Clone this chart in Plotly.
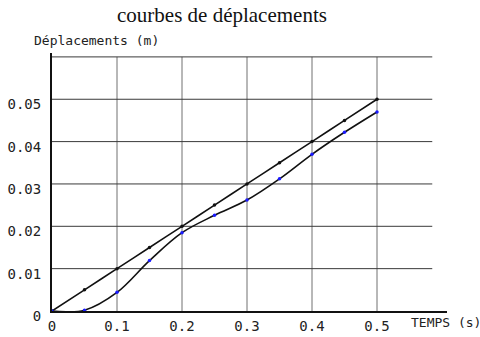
import plotly.graph_objects as go

# Data
temps = [0, 0.05, 0.1, 0.15, 0.2, 0.25, 0.3, 0.35, 0.4, 0.45, 0.5]
depl_lineaire = [0, 0.005, 0.010, 0.015, 0.020, 0.025, 0.030, 0.035, 0.040, 0.045, 0.050]
depl_calcule = [0, 0.0002, 0.0044, 0.0119, 0.0185, 0.0226, 0.0262, 0.0312, 0.0370, 0.0422, 0.0470]

x_ticks = [0, 0.1, 0.2, 0.3, 0.4, 0.5]
x_tick_labels = ["0", "0.1", "0.2", "0.3", "0.4", "0.5"]
y_ticks = [0, 0.01, 0.02, 0.03, 0.04, 0.05]
y_tick_labels = ["0", "0.01", "0.02", "0.03", "0.04", "0.05"]
y_grid = [0.01, 0.02, 0.03, 0.04, 0.05, 0.06]
x_grid = [0.1, 0.2, 0.3, 0.4, 0.5]

title_text = "courbes de déplacements"
y_title = "Déplacements (m)"
x_title = "TEMPS (s)"

mono = "DejaVu Sans Mono"

fig = go.Figure()

fig.add_trace(go.Scatter(
    x=temps, y=depl_lineaire, mode="lines+markers",
    line=dict(color="#111111", width=1.6, shape="spline", smoothing=0.6),
    marker=dict(color="#111111", size=3.5),
    showlegend=False, hoverinfo="skip"))
fig.add_trace(go.Scatter(
    x=temps, y=depl_calcule, mode="lines+markers",
    line=dict(color="#111111", width=1.6, shape="spline", smoothing=1.0),
    marker=dict(color="#1a1aff", size=3.5),
    showlegend=False, hoverinfo="skip"))

shapes = []
for gx in x_grid:
    shapes.append(dict(type="line", xref="x", yref="y", x0=gx, x1=gx,
                       y0=0, y1=y_grid[-1], line=dict(color="#707070", width=1),
                       layer="below"))
for gy in y_grid:
    shapes.append(dict(type="line", xref="x", yref="y", x0=0, x1=0.585,
                       y0=gy, y1=gy, line=dict(color="#3a3a3a", width=1),
                       layer="below"))

fig.update_layout(
    width=480, height=337,
    margin=dict(l=52, r=33, t=53, b=26, autoexpand=False),
    paper_bgcolor="white", plot_bgcolor="white",
    shapes=shapes,
    xaxis=dict(range=[0, 0.6077], tickvals=x_ticks, ticktext=x_tick_labels,
               showgrid=False, zeroline=False, showline=True, automargin=False,
               linecolor="#111111", linewidth=2, ticks="",
               tickfont=dict(family=mono, size=14, color="#222222"),
               ticklabelstandoff=1, fixedrange=True),
    yaxis=dict(range=[0, 0.06092], tickvals=y_ticks, ticktext=y_tick_labels,
               showgrid=False, zeroline=False, showline=True, automargin=False,
               linecolor="#111111", linewidth=2, ticks="",
               tickfont=dict(family=mono, size=14, color="#222222"),
               ticklabelstandoff=6, ticklabelshift=5, fixedrange=True),
    annotations=[
        dict(text=title_text, xref="paper", yref="paper", x=(222 - 52) / 395,
             y=1 + (53 - 15) / 258, xanchor="center", yanchor="middle",
             showarrow=False, font=dict(family="Liberation Serif", size=21, color="#111111")),
        dict(text=y_title, xref="paper", yref="paper", x=(32 - 52) / 395,
             y=1 + (53 - 41) / 258, xanchor="left", yanchor="middle",
             showarrow=False, font=dict(family=mono, size=13, color="#222222")),
        dict(text=x_title, xref="paper", yref="paper", x=(409 - 52) / 395,
             y=-(322 - 311) / 258, xanchor="left", yanchor="middle",
             showarrow=False, font=dict(family=mono, size=13, color="#222222")),
    ],
)

fig.write_html("out.html")
